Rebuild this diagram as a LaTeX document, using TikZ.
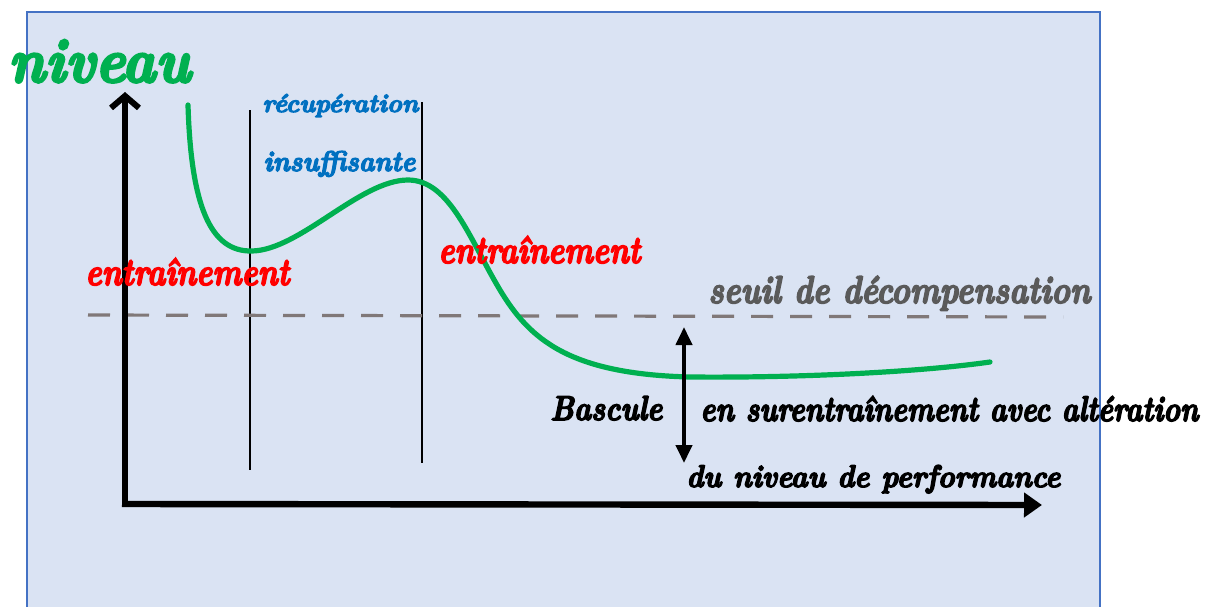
\documentclass[tikz,border=0pt]{standalone}
\usepackage{graphicx}
\usetikzlibrary{arrows.meta}
\definecolor{bgblue}{RGB}{218,227,243}
\definecolor{frameblue}{RGB}{68,114,196}
\definecolor{curvegreen}{RGB}{0,176,80}
\definecolor{txtblue}{RGB}{0,112,192}
\definecolor{dashgray}{RGB}{128,120,120}
\definecolor{txtgray}{RGB}{90,90,90}
\newcommand{\heavy}[1]{\special{pdf:literal direct 2 Tr 0.45 w}#1\special{pdf:literal direct 0 Tr}}
\newcommand{\fw}[3]{\resizebox{#1}{#2}{\bfseries\itshape\heavy{#3}}}
\tikzset{
  lbl/.style={inner sep=0pt, anchor=base west},
  axis/.style={line width=3.2pt, black},
  guide/.style={line width=0.6pt, black},
}
\begin{document}
\begin{tikzpicture}[x=0.5pt,y=-0.5pt]
\useasboundingbox (0,0) rectangle (1206,606);
\fill[white] (0,0) rectangle (1206,606);
\fill[bgblue] (27,12) rectangle (1100,620);
\draw[frameblue, line width=0.6pt] (27,620) -- (27,12) -- (1100,12) -- (1100,620);

% guide lines
\coordinate (g1t) at (250,110); \coordinate (g1b) at (250,470);
\coordinate (g2t) at (422,102); \coordinate (g2b) at (422,463);
\draw[guide] (g1t) -- (g1b);
\draw[guide] (g2t) -- (g2b);

% threshold
\coordinate (s1) at (88,315); \coordinate (s2) at (1063,317);
\draw[dashgray, line width=1.6pt, dash pattern=on 11pt off 8.5pt] (s1) -- (s2);

% axes
\coordinate (ytop) at (125,92);
\coordinate (xend) at (1042,505);
\draw[axis, -{Straight Barb[length=6pt,width=14pt,line width=3pt]}] (125,506) -- (ytop);
\draw[axis, -{Triangle[length=9pt,width=12pt]}] (122,504) -- (xend);

% curve
\draw[curvegreen, line width=2.6pt, line cap=round]
  (188,105) .. controls (191,205) and (210,252) .. (252,251)
  .. controls (300,250) and (360,180) .. (408,180)
  .. controls (450,180) and (470,240) .. (500,290)
  .. controls (530,340) and (570,374) .. (690,377)
  .. controls (800,378) and (920,372) .. (990,362);

% double arrow
\coordinate (da1) at (684,327); \coordinate (da2) at (684,463);
\draw[line width=2pt, {Triangle[length=9pt,width=8pt]}-{Triangle[length=9pt,width=8pt]}] (da1) -- (da2);

% labels
\node[lbl, text=curvegreen] (niveau) at (8,82) {\fw{91pt}{21pt}{niveau}};
\node[lbl, text=txtblue] (recup) at (262,112) {\fw{78pt}{9pt}{récupération}};
\node[lbl, text=txtblue] (insuf) at (263,171) {\fw{76pt}{10pt}{insuffisante}};
\node[lbl, text=red] (ent1) at (85,285) {\fw{102pt}{13.5pt}{entraînement}};
\node[lbl, text=red] (ent2) at (438,263) {\fw{101pt}{13.5pt}{entraînement}};
\node[lbl, text=txtgray] (seuil) at (708,303) {\fw{191pt}{13.5pt}{seuil de décompensation}};
\node[lbl, text=black] (basc) at (550,420) {\fw{56pt}{12pt}{Bascule}};
\node[lbl, text=black] (sur) at (700,421) {\fw{249pt}{12.5pt}{en surentraînement avec altération}};
\node[lbl, text=black] (perf) at (686,487) {\fw{187pt}{11pt}{du niveau de performance}};
\end{tikzpicture}
\end{document}
